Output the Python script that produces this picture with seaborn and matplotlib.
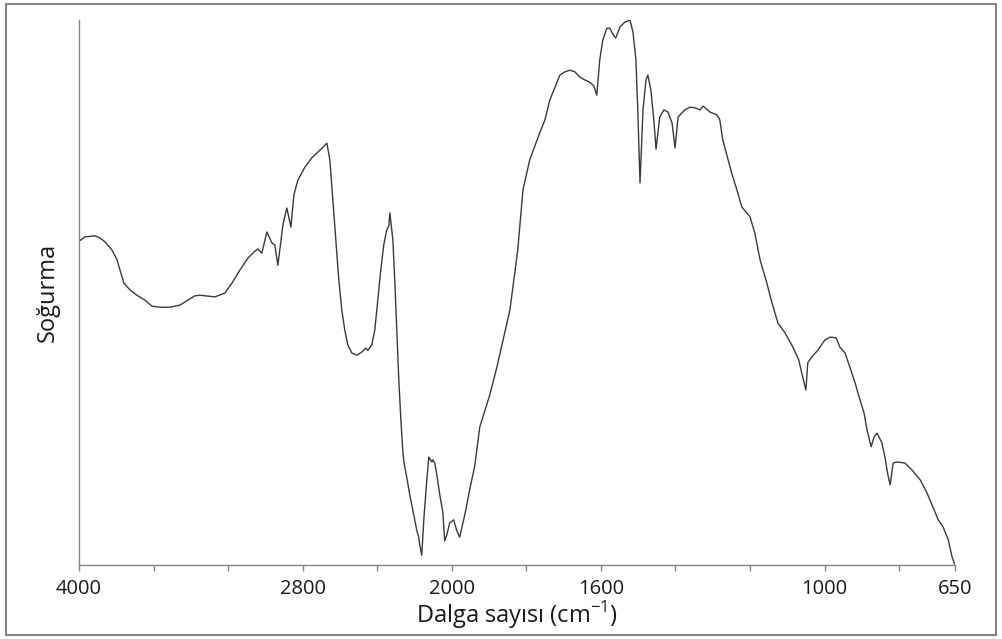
import numpy as np
import pandas as pd
import matplotlib
matplotlib.use("Agg")
import matplotlib.pyplot as plt
from matplotlib.patches import Rectangle
import seaborn as sns

# Wavenumber (cm-1) and absorbance (arbitrary units)
wavenumber = [4000, 3968, 3914, 3887, 3861, 3823, 3796, 3780, 3759, 3727, 3689, 3646, 3609, 3566,
              3512, 3458, 3416, 3378, 3351, 3324, 3271, 3217, 3180, 3137, 3094, 3056, 3040, 3019,
              2992, 2965, 2949, 2933, 2906, 2885, 2863, 2847, 2826, 2788, 2751, 2708, 2670, 2654,
              2638, 2622, 2606, 2590, 2574, 2558, 2536, 2509, 2482, 2461, 2450, 2429, 2413, 2397,
              2381, 2365, 2349, 2338, 2332, 2327, 2316, 2306, 2295, 2284, 2273, 2263, 2257, 2241,
              2225, 2209, 2188, 2177, 2172, 2161, 2150, 2134, 2123, 2107, 2102, 2091, 2080, 2064,
              2048, 2038, 2027, 2011, 1995, 1987, 1979, 1965, 1952, 1938, 1925, 1898, 1879, 1844,
              1823, 1809, 1791, 1764, 1750, 1737, 1723, 1710, 1696, 1683, 1670, 1656, 1643, 1630,
              1619, 1611, 1603, 1595, 1584, 1576, 1568, 1560, 1549, 1536, 1522, 1514, 1506, 1501,
              1495, 1487, 1479, 1474, 1466, 1458, 1452, 1442, 1431, 1420, 1409, 1401, 1393, 1375,
              1361, 1348, 1334, 1326, 1307, 1289, 1281, 1273, 1262, 1249, 1235, 1222, 1200, 1187,
              1173, 1157, 1141, 1125, 1106, 1085, 1069, 1061, 1050, 1045, 1034, 1018, 999, 985,
              969, 959, 945, 932, 918, 905, 894, 886, 875, 867, 859, 846, 838, 830, 824, 816, 806,
              784, 765, 743, 725, 709, 695, 682, 668, 658, 650]
absorbance = [59.4, 60.2, 60.4, 60.0, 59.3, 57.8, 56.0, 54.1, 51.7, 50.5, 49.5, 48.6, 47.5, 47.3,
              47.3, 47.7, 48.6, 49.4, 49.5, 49.4, 49.2, 49.9, 51.7, 54.1, 56.3, 57.6, 58.0, 57.2,
              61.1, 59.1, 58.7, 55.0, 62.4, 65.5, 62.0, 67.9, 70.6, 73.0, 74.7, 76.1, 77.4, 74.3,
              67.0, 59.6, 52.3, 46.8, 43.1, 40.4, 38.9, 38.5, 39.1, 39.8, 39.4, 40.4, 43.1, 48.6,
              54.1, 58.7, 61.5, 62.2, 64.6, 63.0, 59.6, 52.3, 43.1, 33.9, 26.6, 21.1, 18.9, 16.0,
              12.8, 10.1, 6.4, 5.1, 3.7, 1.8, 8.3, 15.6, 19.8, 18.9, 19.3, 18.7, 16.5, 12.8,
              9.7, 4.4, 5.5, 7.7, 8.3, 6.4, 5.1, 9.2, 13.8, 18.3, 25.3, 31.2, 36.3, 46.8,
              57.8, 68.8, 74.3, 79.3, 81.7, 85.3, 87.7, 89.9, 90.5, 90.8, 90.5, 89.5, 89.0, 88.6,
              87.9, 86.2, 92.7, 96.3, 98.5, 98.5, 97.4, 96.7, 98.7, 99.6, 100.0, 97.8, 92.7, 83.5,
              70.1, 83.5, 89.0, 89.9, 87.2, 81.7, 76.3, 82.2, 83.5, 83.1, 81.1, 76.5, 82.2, 83.5,
              84.0, 83.9, 83.5, 84.2, 83.1, 82.6, 81.7, 78.0, 75.2, 71.9, 68.8, 65.7, 63.9, 60.9,
              56.0, 52.3, 48.1, 44.4, 42.6, 40.0, 37.6, 35.2, 32.1, 37.1, 38.2, 39.4, 41.3, 41.8,
              41.7, 40.0, 38.9, 36.3, 33.4, 30.3, 27.9, 24.8, 21.7, 23.5, 24.2, 22.4, 19.8, 16.5,
              14.7, 18.7, 18.9, 18.7, 17.4, 15.6, 13.2, 10.6, 8.3, 7.0, 4.6, 1.5, 0.0]

major_ticks = [4000, 2800, 2000, 1600, 1000, 650]
minor_ticks = [3600, 3200, 2400, 1800, 1400, 1200, 800]

df = pd.DataFrame({"w": wavenumber, "a": absorbance})

sns.set_style("white")
plt.rcParams["font.family"] = ["Open Sans", "DejaVu Sans"]
plt.rcParams["axes.unicode_minus"] = False

fig = plt.figure(figsize=(10.02, 6.39), dpi=100)
ax = fig.add_axes([79 / 1002, (639 - 565) / 639, (955 - 79) / 1002, (565 - 20) / 639])


# Instrument-style axis: below 2000 cm-1 the scale is expanded by a factor 2
def fwd(w):
    w = np.asarray(w, dtype=float)
    return np.where(w >= 2000, w, 2 * w - 2000)


def inv(t):
    t = np.asarray(t, dtype=float)
    return np.where(t >= 2000, t, (t + 2000) / 2)


ax.set_xscale("function", functions=(fwd, inv))

sns.lineplot(data=df, x="w", y="a", ax=ax, color="#3a3a3a", linewidth=1.0,
             sort=False, estimator=None)

ax.set_xlim(4000, 650)
ax.set_ylim(0, 100)

ax.set_xticks(major_ticks)
ax.set_xticklabels([str(t) for t in major_ticks])
ax.set_xticks(minor_ticks, minor=True)
ax.set_yticks([])

for s in ["top", "right"]:
    ax.spines[s].set_visible(False)
for s in ["left", "bottom"]:
    ax.spines[s].set_color("#868686")
    ax.spines[s].set_linewidth(1.0)

ax.tick_params(axis="x", which="both", direction="out", length=4, width=1,
               color="#868686", bottom=True)
ax.tick_params(axis="x", which="major", labelsize=14.5, pad=6, labelcolor="#1a1a1a")

ax.set_xlabel(r"Dalga sayısı (cm$^{\mathregular{-1}}$)", fontsize=17, color="#1a1a1a",
              labelpad=0)
ax.set_ylabel("Soğurma", fontsize=17, color="#1a1a1a", labelpad=14)

fig.patches.append(Rectangle((6 / 1002, 4 / 639), (996 - 6) / 1002, (635 - 4) / 639,
                             transform=fig.transFigure, fill=False,
                             edgecolor="#868686", linewidth=1.5))

fig.savefig("out.png", dpi=100)
